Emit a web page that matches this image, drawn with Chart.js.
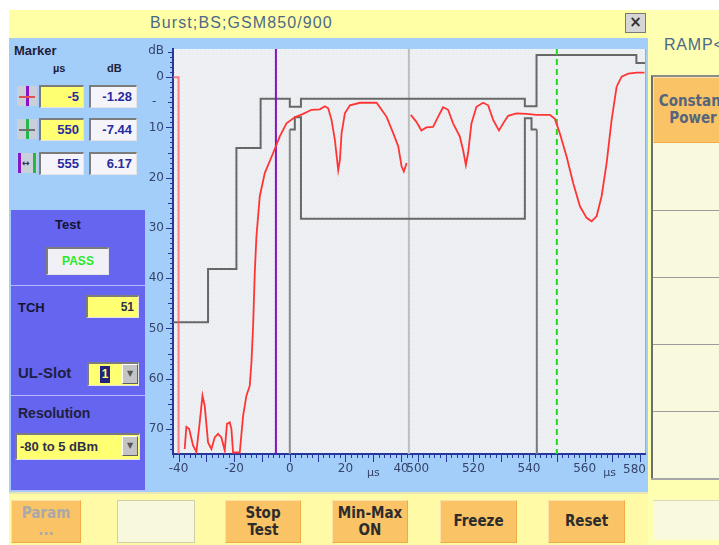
<!DOCTYPE html>
<html>
<head>
<meta charset="utf-8">
<title>Burst;BS;GSM850/900</title>
<script src="https://cdn.jsdelivr.net/npm/chart.js@4.4.1/dist/chart.umd.min.js"></script>
<style>
  body { margin:0; width:719px; height:545px; position:relative; overflow:hidden; background:#fff;
         font-family:"Liberation Sans", Arial, sans-serif; }
  .abs { position:absolute; box-sizing:border-box; }
  .titlebar { left:9px; top:10px; width:639px; height:28px; background:#ffffa6; }
  .title { left:150px; top:14px; font-size:16px; letter-spacing:1.1px; color:#4d6987; white-space:nowrap; }
  .close { left:625px; top:13px; width:21px; height:20px; background:#d6d6d6; border:1px solid #7a7a7a;
           font:bold 15px/17px "DejaVu Sans", sans-serif; text-align:center; color:#303030; }
  .main { left:9px; top:38px; width:639px; height:454px; background:#a4cefa; }
  .lbl { font-weight:bold; color:#1e1e3a; white-space:nowrap; }
  .box { height:23px; border-top:2px solid #7c7c7c; border-left:2px solid #7c7c7c;
         border-bottom:1px solid #e4e4e4; border-right:1px solid #e4e4e4;
         font:bold 13px/20px "Liberation Sans", Arial, sans-serif; color:#2a2aa0; text-align:right; padding-right:4px; }
  .yel { background:#ffff72; }
  .wht { background:#f4f4fa; }
  .icon { width:20px; height:20px; background:#c9d0da; }
  .bar { position:absolute; top:0; width:3px; height:20px; }
  .purple { left:11px; width:134px; background:#6565ef; border-bottom:1px solid #b9b9ff; }
  .drop { background:#c4c4c4; border-left:1px solid #fff; border-top:1px solid #fff; border-right:1px solid #606060;
          border-bottom:1px solid #606060; width:16px; height:20px; font:8px/18px "DejaVu Sans"; color:#555; text-align:center; }
  .bottombar { left:9px; top:492px; width:639px; height:53px; background:#fffaa6; border-top:2px solid #e9e6b2; }
  .btn { top:500px; height:43px; background:#f9c366; border:1px solid #efac46; border-top-color:#fde0a8; border-left-color:#fde0a8;
         font:bold 15px/17px "Liberation Sans Narrow", "DejaVu Sans Condensed", sans-serif; color:#2c2c2c;
         text-align:center; display:flex; align-items:center; justify-content:center; }
  .blank { background:#f8f8dc; border:1px solid #cfcfae; }
  .rightcol { left:648px; top:10px; width:71px; height:535px; background:#ffffb2; }
  .rbtn { left:653px; width:80px; height:67px; background:#f9f9de; border-top:1px solid #9c9c9c; }
</style>
</head>
<body>
<!-- window chrome -->
<div class="abs titlebar"></div>
<div class="abs title">Burst;BS;GSM850/900</div>
<div class="abs close">×</div>
<div class="abs main"></div>

<!-- marker block -->
<div class="abs lbl" style="left:14px;top:43px;font-size:13px;">Marker</div>
<div class="abs lbl" style="left:53px;top:62px;font-size:11px;">µs</div>
<div class="abs lbl" style="left:107px;top:62px;font-size:11px;">dB</div>

<div class="abs icon" style="left:17px;top:86px;"><div class="bar" style="left:9px;background:#8a14c8;"></div><div style="position:absolute;left:2px;top:10px;width:16px;height:2px;background:#e05050;"></div></div>
<div class="abs box yel" style="left:39px;top:85px;width:45px;">-5</div>
<div class="abs box wht" style="left:89px;top:85px;width:48px;">-1.28</div>

<div class="abs icon" style="left:17px;top:119px;"><div class="bar" style="left:9px;background:#22b84a;"></div><div style="position:absolute;left:2px;top:10px;width:16px;height:2px;background:#707070;"></div></div>
<div class="abs box yel" style="left:39px;top:118px;width:45px;">550</div>
<div class="abs box wht" style="left:89px;top:118px;width:48px;">-7.44</div>

<div class="abs icon" style="left:17px;top:153px;"><div class="bar" style="left:1px;background:#8a14c8;"></div><div class="bar" style="left:16px;background:#22b84a;"></div><div style="position:absolute;left:5px;top:5px;font:bold 9px 'DejaVu Sans';color:#303060;">↔</div></div>
<div class="abs box wht" style="left:39px;top:152px;width:45px;">555</div>
<div class="abs box wht" style="left:89px;top:152px;width:48px;">6.17</div>

<!-- test / channel / resolution panels -->
<div class="abs purple" style="top:210px;height:76px;"></div>
<div class="abs lbl" style="left:55px;top:217px;font-size:13px;color:#141430;">Test</div>
<div class="abs box" style="left:46px;top:247px;width:63px;height:28px;background:#f0f0f6;text-align:center;padding:0;color:#2ce82c;font-size:12px;line-height:25px;">PASS</div>

<div class="abs purple" style="top:286px;height:110px;"></div>
<div class="abs lbl" style="left:18px;top:300px;font-size:13px;color:#141430;">TCH</div>
<div class="abs box yel" style="left:86px;top:295px;width:53px;color:#30304a;font-size:12px;">51</div>
<div class="abs lbl" style="left:18px;top:364px;font-size:15px;color:#202040;">UL-Slot</div>
<div class="abs box yel" style="left:87px;top:362px;width:52px;height:24px;"></div>
<div class="abs" style="left:100px;top:366px;width:10px;height:17px;background:#23237c;color:#ffff72;font:bold 12px/17px 'Liberation Sans';text-align:center;">1</div>
<div class="abs drop" style="left:122px;top:364px;">▼</div>

<div class="abs purple" style="top:396px;height:95px;"></div>
<div class="abs lbl" style="left:18px;top:405px;font-size:14px;color:#202040;">Resolution</div>
<div class="abs box yel" style="left:15px;top:433px;width:125px;height:27px;text-align:left;padding-left:3px;color:#30304a;line-height:23px;">-80 to 5 dBm</div>
<div class="abs drop" style="left:122px;top:436px;">▼</div>

<!-- chart -->
<canvas id="burstChart" class="abs" width="508" height="452" style="left:140px;top:38px;"></canvas>

<!-- softkeys -->
<div class="abs bottombar"></div>
<div class="abs btn" style="left:11px;width:70px;color:#a9a9a9;">Param<br>...</div>
<div class="abs btn blank" style="left:117px;width:78px;"></div>
<div class="abs btn" style="left:225px;width:76px;">Stop<br>Test</div>
<div class="abs btn" style="left:332px;width:76px;">Min-Max<br>ON</div>
<div class="abs btn" style="left:440px;width:77px;">Freeze</div>
<div class="abs btn" style="left:548px;width:77px;">Reset</div>

<div class="abs rightcol"></div>
<div class="abs" style="left:664px;top:36px;font-size:16px;letter-spacing:0.8px;color:#4d6987;white-space:nowrap;">RAMP&lt;</div>
<div class="abs" style="left:651px;top:75px;width:80px;height:404px;border-left:2px solid #6e6e6e;border-top:2px solid #8c8c8c;background:#f9f9de;"></div>
<div class="abs btn" style="left:653px;top:77px;width:80px;height:66px;color:#56657c;font-size:15px;">Constant<br>Power</div>
<div class="abs rbtn" style="top:210px;"></div>
<div class="abs rbtn" style="top:277px;"></div>
<div class="abs rbtn" style="top:344px;"></div>
<div class="abs rbtn" style="top:411px;"></div>
<div class="abs" style="left:651px;top:478px;width:80px;height:2px;background:#a6a6a6;"></div>
<div class="abs" style="left:653px;top:500px;width:70px;height:40px;background:#f9f9de;border-top:1px solid #d8d8c0;"></div>

<script>
// Burst power vs time, GSM850/900 BS, with a broken time axis
// (rising edge on the left, falling edge on the right)

// === axis layout ===
const LEFT_RANGE_US = [-42, 42.8];
const RIGHT_RANGE_US = [496.8, 581.7];
const AXIS_GAP = RIGHT_RANGE_US[0] - LEFT_RANGE_US[1]; // hidden part of the burst

const Y_TOP = -5.6;   // dB (axis is reversed: 0 dB near the top)
const Y_BOTTOM = 75;

// === tick labels ===
const xTickUs = [-40, -20, 0, 20, 40, 500, 520, 540, 560, 580];
const yTickDb = [-5.3, 0, 5, 10, 20, 30, 40, 50, 60, 70];
const yTickText = ["dB", "0", "-  ", "10", "20", "30", "40", "50", "60", "70"];

// === measured trace (µs / dB below reference) ===
const edgeUs = [-42, -40, -40];
const edgeDb = [0, 0, 75];

const traceLeftUs = [-37.8, -37.2, -36.2, -34.8, -33.6, -32.4, -31.4, -30.6, -29.4, -28.2, -27, -25.8,
  -24.6, -23.4, -22.6, -21.6, -21, -20.4, -18, -16.8, -15.6, -14.4, -13.8, -13.2, -12.6, -12, -10.8, -9,
  -6, -3.6, -1.2, 1.8, 4.8, 7.8, 10.8, 12.6, 13.8, 15, 16.2, 17.4, 18, 18.6, 19.8, 21.6, 25.2, 31.2,
  34.8, 37.2, 39, 40.2, 41, 42];
const traceLeftDb = [74, 69.6, 70, 73.3, 74.6, 68.7, 63.4, 65.4, 72.7, 74, 71.7, 71,
  71.7, 74.3, 69, 68.7, 70, 74.7, 74.7, 67.4, 63.4, 61.4, 56.8, 49.5, 38.9, 31.7, 23.7, 19.1,
  15.1, 11.8, 9.2, 8, 7.3, 6.5, 6.4, 5.8, 6.2, 8.5, 12.5, 18.5, 16.5, 11.2, 7.2, 5.6, 5.1, 5.1,
  7.9, 11.2, 13.8, 17.8, 18.8, 17.1];

const traceRightUs = [497.5, 499.5, 501.3, 503.1, 505.5, 507.3, 509.1, 510.9, 512.7, 515.1, 516.3,
  517.3, 518.1, 519.3, 521.1, 523.5, 525.3, 527.1, 529.2, 530.7, 532.5, 535.5, 539.1, 542.7, 547.5,
  549.3, 551.1, 553.5, 555.9, 558.3, 560.7, 562.5, 564.3, 566.1, 567.9, 569.7, 571.5, 573.3, 575.7,
  578.7, 581.5];
const traceRightDb = [7.5, 8.9, 10.6, 10, 9.9, 7.9, 6, 6.5, 9.2, 11.8, 14.5,
  17.5, 15.1, 9.2, 5.9, 5.1, 5.6, 8.5, 10.6, 9.2, 7.7, 7.2, 7.3, 7.5, 7.5,
  8.3, 11.2, 15.8, 21.1, 25.7, 28, 28.7, 27.7, 23.7, 17.1, 8.5, 1.9, -0.1, -0.7,
  -0.9, -0.9];

// === tolerance masks ===
const upperMaskUs = [-42, -29.4, -29.4, -19.2, -19.2, -10.5, -10.5, 0, 0, 4, 4, 538.5, 538.5,
  542.7, 542.7, 578.6, 578.6, 581.7];
const upperMaskDb = [48.8, 48.8, 38.2, 38.2, 14.1, 14.1, 4.3, 4.3, 5.9, 5.9, 4.3, 4.3, 5.8,
  5.8, -4.4, -4.4, -2.8, -2.8];

const lowerMaskUs = [0, 1.8, 1.8, 4, 4, 538.5, 538.5, 540.9, 540.9, 542.8];
const lowerMaskDb = [10.4, 10.4, 8, 8, 28.2, 28.2, 8.2, 8.2, 10.4, 10.4];

const usefulPartUs = [0, 542.8];
const usefulPartTopDb = 10.4;

// markers: M1 and M2
const markerUs = [-5, 550];

// === helpers ===
const toAxis = us => (us > LEFT_RANGE_US[1] ? us - AXIS_GAP : us);
const fromAxis = v => (v > LEFT_RANGE_US[1] + 0.01 ? v + AXIS_GAP : v);

function toPoints(us, db) {
  return us.map((t, i) => ({ x: toAxis(t), y: db[i] }));
}
function vLine(us, fromDb = Y_TOP, toDb = Y_BOTTOM) {
  return [{ x: toAxis(us), y: fromDb }, { x: toAxis(us), y: toDb }];
}

const AXIS_BLUE = "#27379c";
const LABEL_COLOR = "#34446a";
const LAST_X_TICK = xTickUs[xTickUs.length - 1];

const lineDefaults = { type: "line", pointRadius: 0, fill: false, tension: 0, spanGaps: false };

const datasets = [
  { ...lineDefaults, label: "trace",
    data: [...toPoints(traceLeftUs, traceLeftDb), { x: LEFT_RANGE_US[1], y: null },
           ...toPoints(traceRightUs, traceRightDb)],
    borderColor: "#ff3535", borderWidth: 1.8 },
  { ...lineDefaults, label: "edge", data: toPoints(edgeUs, edgeDb),
    borderColor: "rgba(255,90,90,0.75)", borderWidth: 2 },
  { ...lineDefaults, label: "M1", data: vLine(markerUs[0]), borderColor: "#8512c4", borderWidth: 2 },
  { ...lineDefaults, label: "M2", data: vLine(markerUs[1]), borderColor: "#22d822", borderWidth: 2,
    borderDash: [6, 4] },
  { ...lineDefaults, label: "upper mask", data: toPoints(upperMaskUs, upperMaskDb),
    borderColor: "#676767", borderWidth: 2 },
  { ...lineDefaults, label: "lower mask", data: toPoints(lowerMaskUs, lowerMaskDb),
    borderColor: "#676767", borderWidth: 2 },
  { ...lineDefaults, label: "useful start", data: vLine(usefulPartUs[0], usefulPartTopDb),
    borderColor: "#8c8c8c", borderWidth: 2 },
  { ...lineDefaults, label: "useful end", data: vLine(usefulPartUs[1], usefulPartTopDb),
    borderColor: "#787878", borderWidth: 2 },
  { ...lineDefaults, label: "break", data: vLine(LEFT_RANGE_US[1]),
    borderColor: "#bdbdbd", borderWidth: 2 }
];

// stippled plot background, axis tick marks and µs units
function plotPattern(ctx) {
  const c = document.createElement("canvas");
  c.width = 4; c.height = 4;
  const p = c.getContext("2d");
  p.fillStyle = "#eff0f2";
  p.fillRect(0, 0, 4, 4);
  p.fillStyle = "#e0e4ec";
  p.fillRect(0, 0, 1, 1);
  p.fillRect(2, 2, 1, 1);
  return ctx.createPattern(c, "repeat");
}

const burstFrame = {
  id: "burstFrame",
  beforeDraw(chart) {
    const { ctx, chartArea: a } = chart;
    ctx.save();
    ctx.fillStyle = plotPattern(ctx);
    ctx.fillRect(a.left, a.top, a.right - a.left, a.bottom - a.top);
    ctx.fillStyle = "#86b2e6";
    ctx.fillRect(a.right, a.top, 1, a.bottom - a.top);
    ctx.restore();
  },
  afterDraw(chart) {
    const { ctx, chartArea: a, scales: { x, y } } = chart;
    ctx.save();
    ctx.strokeStyle = AXIS_BLUE;
    ctx.lineWidth = 1;
    ctx.beginPath();
    // dB ticks, every 1 dB
    for (let d = -5; d <= 74; d++) {
      const py = Math.round(y.getPixelForValue(d)) + 0.5;
      const len = d % 10 === 0 ? 7 : d % 5 === 0 ? 5 : 3;
      ctx.moveTo(a.left - len, py);
      ctx.lineTo(a.left, py);
    }
    // time ticks, every 2 µs in both parts
    [LEFT_RANGE_US, RIGHT_RANGE_US].forEach(([from, to]) => {
      for (let t = Math.ceil(from / 2) * 2; t <= to; t += 2) {
        const px = Math.round(x.getPixelForValue(toAxis(t))) + 0.5;
        const len = t % 10 === 0 ? 8 : 4;
        ctx.moveTo(px, a.bottom);
        ctx.lineTo(px, a.bottom + len);
      }
    });
    ctx.stroke();

    ctx.fillStyle = LABEL_COLOR;
    ctx.textBaseline = "middle";
    // last time label sits flush with the right edge of the plot
    ctx.font = "12px 'DejaVu Sans'";
    ctx.textAlign = "right";
    ctx.fillText(String(LAST_X_TICK), a.right + 1, a.bottom + 16);
    ctx.font = "11px 'DejaVu Sans'";
    ctx.textAlign = "center";
    ctx.fillText("µs", x.getPixelForValue(toAxis(30)), a.bottom + 19);
    ctx.fillText("µs", x.getPixelForValue(toAxis(569)), a.bottom + 19);
    ctx.restore();
  }
};

const chartConfig = {
  type: "line",
  data: { datasets },
  options: {
    responsive: false,
    animation: false,
    events: [],
    layout: { padding: { top: 11, right: 3, left: 0, bottom: 0 } },
    plugins: { legend: { display: false }, tooltip: { enabled: false } },
    scales: {
      x: {
        type: "linear",
        min: LEFT_RANGE_US[0],
        max: toAxis(RIGHT_RANGE_US[1]),
        grid: { display: false, drawTicks: false },
        border: { display: true, color: AXIS_BLUE, width: 2 },
        afterBuildTicks: scale => { scale.ticks = xTickUs.map(t => ({ value: toAxis(t) })); },
        afterFit: scale => {
          scale.height = 36;
          scale.paddingLeft = 0;   // labels may overhang into the y axis area
          scale.paddingRight = 0;
        },
        ticks: {
          autoSkip: false, maxRotation: 0, padding: 8,
          color: LABEL_COLOR, font: { family: "DejaVu Sans", size: 12 },
          callback: value => {
            const us = Math.round(fromAxis(value));
            return us === LAST_X_TICK ? "" : String(us);
          }
        }
      },
      y: {
        type: "linear",
        reverse: true,
        min: Y_TOP,
        max: Y_BOTTOM,
        grid: { display: false, drawTicks: false },
        border: { display: true, color: AXIS_BLUE, width: 2 },
        afterBuildTicks: scale => { scale.ticks = yTickDb.map(v => ({ value: v })); },
        afterFit: scale => {
          scale.width = 33;
          scale.paddingTop = 0;
          scale.paddingBottom = 0;
        },
        ticks: {
          autoSkip: false, padding: 9,
          color: LABEL_COLOR, font: { family: "DejaVu Sans", size: 12 },
          callback: value => yTickText[yTickDb.indexOf(value)]
        }
      }
    }
  },
  plugins: [burstFrame]
};

const burstChart = new Chart(document.getElementById("burstChart"), chartConfig);
</script>
</body>
</html>
